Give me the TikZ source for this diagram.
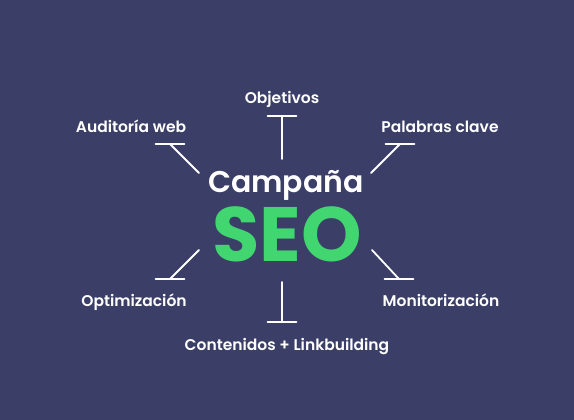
\documentclass[tikz,border=0pt]{standalone}
\usepackage{fontspec}
\setmainfont{Poppins}
\newfontfamily\semifont{Poppins SemiBold}
\usetikzlibrary{positioning}
\definecolor{seoBack}{RGB}{59,63,103}
\definecolor{seoGreen}{RGB}{66,214,112}

\begin{document}
\begin{tikzpicture}[x=1pt,y=-1pt,line cap=round,
  spoke/.style={white,line width=1.8pt},
  tag/.style={text=white,font=\fontsize{15.5}{18}\semifont,anchor=base},
  head/.style={text=white,font=\fontsize{30}{36}\semifont,anchor=base},
  big/.style={text=seoGreen,font=\fontsize{77}{84}\selectfont\bfseries,anchor=base}]
  % background, fixes the page size
  \fill[seoBack] (0,0) rectangle (574,420);
  % title in the middle
  \node[head] (campana) at (286,193) {Campaña};
  \node[big] (seo) at (287,261) {SEO};
  % the six topics
  \node[tag] (obj) at (282,103) {Objetivos};
  \node[tag] (aud) at (131,132) {Auditoría web};
  \node[tag] (pal) at (440,132) {Palabras clave};
  \node[tag] (opt) at (134,306) {Optimización};
  \node[tag] (mon) at (441,306) {Monitorización};
  \node[tag] (con) at (287,350) {Contenidos + Linkbuilding};
  % spoke ends: inner end near the title, outer end on the bar
  \coordinate (obj-in) at (282,159);  \coordinate (obj-out) at (282,116);
  \coordinate (aud-in) at (199,173);  \coordinate (aud-out) at (170,144);
  \coordinate (pal-in) at (371,173);  \coordinate (pal-out) at (400,144);
  \coordinate (opt-in) at (199,250);  \coordinate (opt-out) at (170,279);
  \coordinate (mon-in) at (372,250);  \coordinate (mon-out) at (399,279);
  \coordinate (con-in) at (282,282);  \coordinate (con-out) at (282,322);
  % spokes with a flat bar at the outer end
  \foreach \t in {obj,aud,pal,opt,mon,con} {
    \draw[spoke] (\t-in) -- (\t-out);
    \draw[spoke] ([xshift=-14.5pt]\t-out) -- ([xshift=14.5pt]\t-out);
  }
\end{tikzpicture}
\end{document}
